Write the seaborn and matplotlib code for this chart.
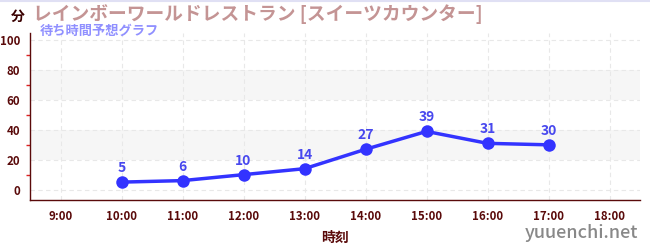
import matplotlib
matplotlib.use("Agg")
import matplotlib.pyplot as plt
import seaborn as sns
import pandas as pd
from matplotlib.ticker import MultipleLocator

hours = [10, 11, 12, 13, 14, 15, 16, 17]
waits = [5, 6, 10, 14, 27, 39, 31, 30]
xticks = [9, 10, 11, 12, 13, 14, 15, 16, 17, 18]
xticklabels = ["9:00", "10:00", "11:00", "12:00", "13:00", "14:00", "15:00", "16:00", "17:00", "18:00"]
yticks = [0, 20, 40, 60, 80, 100]
title = "レインボーワールドレストラン [スイーツカウンター]"
subtitle = "待ち時間予想グラフ"
xlabel = "時刻"
ylabel = "分"
credit = "yuuenchi.net"

sns.set_theme(style="white")
plt.rcParams['font.family'] = ['Noto Sans CJK JP', 'DejaVu Sans']

df = pd.DataFrame({"hour": hours, "wait": waits})

fig = plt.figure(figsize=(6.5, 2.5), dpi=100)
ax = fig.add_axes([30/650, 50/250, 610/650, 167/250])

dark = "#5a0a0a"
for lo, hi in [(20, 40), (60, 80)]:
    ax.axhspan(lo, hi, color="#f6f6f6", zorder=0, lw=0)

sns.lineplot(data=df, x="hour", y="wait", ax=ax, color="#3333ff", lw=2.5,
             marker="o", markersize=9, markeredgewidth=0, zorder=3)

for h, w in zip(hours, waits):
    ax.annotate(str(w), (h, w), xytext=(0, 5), textcoords="offset points",
                ha="center", va="bottom", color="#4848ee", fontsize=10, fontweight="bold")

ax.set_xlim(8.5, 18.5)
ax.set_ylim(-7, 105)
ax.set_xticks(xticks)
ax.set_xticklabels(xticklabels)
ax.set_yticks(yticks)
ax.yaxis.set_minor_locator(MultipleLocator(10))
ax.tick_params(axis="both", which="major", labelsize=8.3, colors=dark, length=4, width=1, direction="out", pad=3)
ax.tick_params(axis="y", which="minor", length=3, width=1, color="#dd2222", left=True)
ax.tick_params(axis="x", which="major", color="#888888")
ax.grid(True, which="major", linestyle=(0, (4, 3)), color="#e8e8e8", lw=0.8, zorder=0)
for lab in ax.get_xticklabels() + ax.get_yticklabels():
    lab.set_color(dark)
    lab.set_fontweight("bold")

for s in ["top", "right"]:
    ax.spines[s].set_visible(False)
ax.spines["left"].set_color(dark)
ax.spines["bottom"].set_color(dark)
ax.spines["left"].set_linewidth(1)
ax.spines["bottom"].set_linewidth(1)

ax.set_xlabel(xlabel, fontsize=10, fontweight="bold", color=dark, labelpad=6)
ax.set_ylabel("")

fig.text(11/650, 1 - 17/250, ylabel, fontsize=10, fontweight="bold", color="#3a0000", va="center", ha="left")
fig.text(33/650, 1 - 14/250, title, fontsize=13.5, fontweight="bold", color="#c49494", va="center", ha="left")
fig.text(40/650, 1 - 31/250, subtitle, fontsize=9.5, fontweight="bold", color="#9090ff", va="center", ha="left")
fig.text(638/650, 1 - 233/250, credit, fontsize=13, fontweight="medium", color="#888888", va="center", ha="right")
fig.add_artist(plt.Line2D([0, 1], [0.998, 0.998], color="#e0e0f4", lw=1.5, transform=fig.transFigure))

fig.savefig("out.png", dpi=100)
